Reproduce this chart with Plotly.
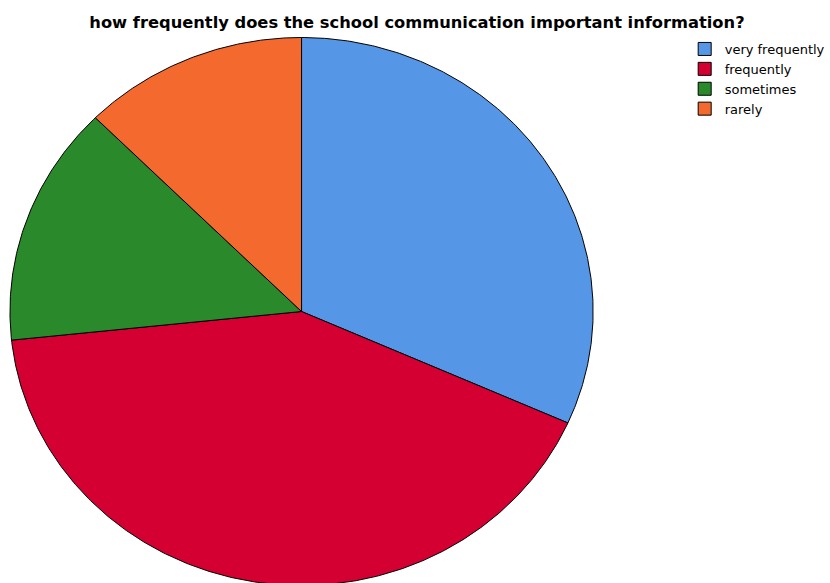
import numpy as np
import plotly.graph_objects as go

# Survey responses
categories = ["very frequently", "frequently", "sometimes", "rarely"]
counts = [38, 50, 17, 15]
colors = ["#5596E6", "#D50032", "#2A8A2B", "#F46A2E"]
title_text = "how frequently does the school communication important information?"

W, H = 830, 583
# Pie geometry in pixel space (slightly elliptical pie)
CX, CY = 303, 311.5
RX, RY = 293, 274

fig = go.Figure()

total = sum(counts)
start = 0.0
for name, n, col in zip(categories, counts, colors):
    frac = n / total
    t = np.linspace(start, start + frac, max(int(frac * 720), 2)) * 2 * np.pi
    xs = np.concatenate([[CX], CX + RX * np.sin(t), [CX]])
    ys = np.concatenate([[CY], CY - RY * np.cos(t), [CY]])
    fig.add_trace(go.Scatter(
        x=xs, y=ys, mode="lines", fill="toself", fillcolor=col,
        line=dict(color="black", width=1),
        name=name, showlegend=False, hoveron="fills",
        text=f"{name}: {n} ({frac:.1%})", hoverinfo="text",
    ))
    start += frac

# Legend entries with square swatches
for name, col in zip(categories, colors):
    fig.add_trace(go.Scatter(
        x=[None], y=[None], mode="markers", name=name,
        marker=dict(symbol="square", size=13, color=col,
                    line=dict(color="black", width=1)),
    ))

fig.update_layout(
    width=W, height=H, autosize=False,
    margin=dict(l=0, r=0, t=0, b=0),
    paper_bgcolor="white", plot_bgcolor="white",
    xaxis=dict(range=[0, W], visible=False, fixedrange=True),
    yaxis=dict(range=[H, 0], visible=False, fixedrange=True),
    title=dict(
        text=title_text, x=419 / W, xanchor="center", xref="paper",
        y=1 - 22 / H, yanchor="middle", yref="paper",
        font=dict(family="DejaVu Sans", size=16.3, color="black", weight="bold"),
    ),
    legend=dict(
        x=688 / W, xanchor="left", y=1 - 34 / H, yanchor="top",
        font=dict(family="DejaVu Sans", size=13, color="black"),
        bgcolor="rgba(0,0,0,0)", borderwidth=0, tracegroupgap=0,
    ),
    showlegend=True,
)

fig.write_html("out.html")
